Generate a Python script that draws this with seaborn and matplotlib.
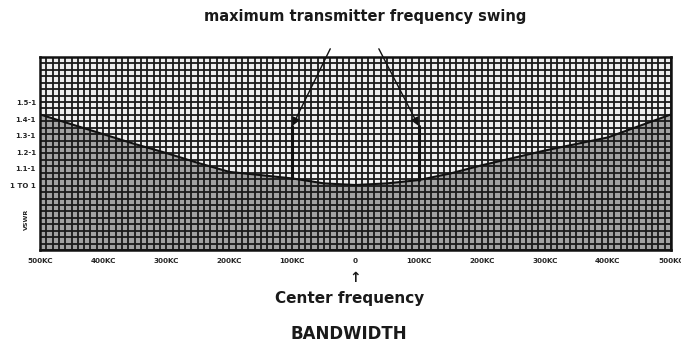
import numpy as np
import pandas as pd
import matplotlib
matplotlib.use("Agg")
import matplotlib.pyplot as plt
import seaborn as sns

# VSWR across the band, offset from center frequency in kc
offset_kc = [-500, -450, -400, -350, -300, -250, -200, -150, -100, -50, 0,
             50, 100, 150, 200, 250, 300, 350, 400, 450, 500]
vswr = [1.43, 1.37, 1.31, 1.25, 1.195, 1.135, 1.08, 1.06, 1.04, 1.01, 1.00,
        1.01, 1.03, 1.07, 1.12, 1.165, 1.21, 1.25, 1.29, 1.36, 1.43]

x_tick_vals = [-500, -400, -300, -200, -100, 0, 100, 200, 300, 400, 500]
x_tick_text = ["500KC", "400KC", "300KC", "200KC", "100KC", "0",
               "100KC", "200KC", "300KC", "400KC", "500KC"]
y_tick_vals = [1.0, 1.1, 1.2, 1.3, 1.4, 1.5]
y_tick_text = ["1 TO 1", "1.1-1", "1.2-1", "1.3-1", "1.4-1", "1.5-1"]

swing_kc = [-100, 100]
swing_top = 1.36

df = pd.DataFrame({"offset": offset_kc, "vswr": vswr})

sns.set_style("white")
plt.rcParams["font.family"] = ["DejaVu Sans"]

fig = plt.figure(figsize=(6.81, 3.44), dpi=100)
ax = fig.add_axes([40 / 681, 94 / 344, 631 / 681, 193 / 344])

y0, y1 = 0.604, 1.78
ax.set_xlim(-500, 500)
ax.set_ylim(y0, y1)

# shading above and below the response curve
ax.fill_between(df["offset"], df["vswr"], y1, color="#eeeeee", zorder=0)
ax.fill_between(df["offset"], y0, df["vswr"], color="#a2a2a2", zorder=0)

# graph-paper grid: 10 kc columns, 30 rows
for gx in np.arange(-500, 501, 10):
    ax.axvline(gx, color="#1a1a1a", lw=1.3, zorder=1)
for gy in np.linspace(y0, y1, 31):
    ax.axhline(gy, color="#1a1a1a", lw=1.3, zorder=1)

sns.lineplot(data=df, x="offset", y="vswr", ax=ax, color="#111111",
             lw=1.5, zorder=3)

# maximum swing markers
for k in swing_kc:
    base = float(np.interp(k, offset_kc, vswr))
    ax.plot([k, k], [base, swing_top], color="#111111", lw=2.2, zorder=4)

for k, start in zip(swing_kc, [-40, 37]):
    ax.annotate("", xy=(k, swing_top), xytext=(start, 1.83),
                arrowprops=dict(arrowstyle="-|>", color="#111111", lw=1.0,
                                mutation_scale=12, shrinkA=0, shrinkB=0),
                annotation_clip=False, zorder=5)

for s in ax.spines.values():
    s.set_color("#111111")
    s.set_linewidth(1.8)
    s.set_visible(True)

ax.set_xticks(x_tick_vals)
ax.set_xticklabels(x_tick_text, fontsize=5.2, fontweight="bold")
ax.set_yticks(y_tick_vals)
ax.set_yticklabels(y_tick_text, fontsize=5, fontweight="bold")
ax.tick_params(length=0, pad=6)
ax.tick_params(axis="y", pad=3)
ax.set_xlabel("")
ax.set_ylabel("VSWR", fontsize=4.5, fontweight="bold", labelpad=6)
ax.yaxis.set_label_coords(-0.018, 0.16)

fig.text(365 / 681, 1 - 17 / 344, "maximum transmitter frequency swing",
         ha="center", va="center", fontsize=10.5, fontweight="bold",
         color="#1a1a1a")
fig.text(355 / 681, 1 - 278 / 344, "\u2191", ha="center", va="center",
         fontsize=10, fontweight="bold", color="#1a1a1a")
fig.text(350 / 681, 1 - 298 / 344, "Center frequency", ha="center",
         va="center", fontsize=11, fontweight="bold", color="#1a1a1a")
fig.text(349 / 681, 1 - 334 / 344, "BANDWIDTH", ha="center", va="center",
         fontsize=12, fontweight="bold", color="#1a1a1a")

fig.savefig("out.png", dpi=100, facecolor="white")
